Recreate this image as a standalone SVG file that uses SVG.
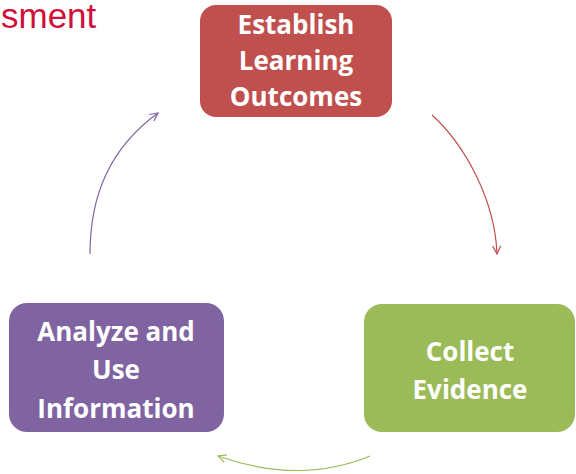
<svg xmlns="http://www.w3.org/2000/svg" width="576" height="474" viewBox="0 0 576 474">
<style>
.lbl{font-family:"Open Sans","Liberation Sans",sans-serif;font-weight:bold;font-size:26px;fill:#ffffff;text-anchor:middle}
.con{fill:none;stroke-width:1.2}
</style>
<defs>
<marker id="mr" viewBox="0 0 10 10" refX="9" refY="5" markerWidth="10" markerHeight="10" markerUnits="userSpaceOnUse" orient="auto"><path d="M1,1 L9,5 L1,9" fill="none" stroke="#c0504d" stroke-width="1.2"/></marker>
<marker id="mg" viewBox="0 0 10 10" refX="9" refY="5" markerWidth="10" markerHeight="10" markerUnits="userSpaceOnUse" orient="auto"><path d="M1,1 L9,5 L1,9" fill="none" stroke="#9bbb59" stroke-width="1.2"/></marker>
<marker id="mp" viewBox="0 0 10 10" refX="9" refY="5" markerWidth="10" markerHeight="10" markerUnits="userSpaceOnUse" orient="auto"><path d="M1,1 L9,5 L1,9" fill="none" stroke="#8064a2" stroke-width="1.2"/></marker>
</defs>
<rect width="576" height="474" fill="#ffffff"/>
<text x="1" y="28" font-family="Liberation Sans, Arial, sans-serif" font-size="35" fill="#d0103a">sment</text>
<g id="connectors">
<path class="con" d="M432,115 C465,145 495,200 497,254" stroke="#c0504d" marker-end="url(#mr)"/>
<path class="con" d="M370,456 Q300,485 218,456" stroke="#9bbb59" marker-end="url(#mg)"/>
<path class="con" d="M90,254 C90,195 110,148 158,113" stroke="#8064a2" marker-end="url(#mp)"/>
</g>
<g id="node-establish">
<rect x="200" y="5" width="192" height="112" rx="16" fill="#c0504d"/>
<text class="lbl" x="296" y="34">Establish</text>
<text class="lbl" x="296" y="70">Learning</text>
<text class="lbl" x="296" y="106">Outcomes</text>
</g>
<g id="node-collect">
<rect x="364" y="304" width="211" height="128" rx="18" fill="#9bbb59"/>
<text class="lbl" x="470" y="361">Collect</text>
<text class="lbl" x="470" y="399">Evidence</text>
</g>
<g id="node-analyze">
<rect x="9" y="303" width="215" height="129" rx="18" fill="#8064a2"/>
<text class="lbl" x="116" y="341">Analyze and</text>
<text class="lbl" x="116" y="379">Use</text>
<text class="lbl" x="116" y="418">Information</text>
</g>
</svg>
